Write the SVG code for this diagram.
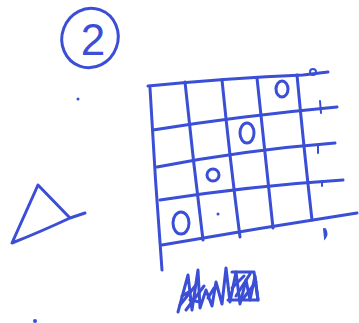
<svg xmlns="http://www.w3.org/2000/svg" width="359" height="323" viewBox="0 0 359 323">
<style>
.s{fill:none;stroke:#3a4ed6;stroke-width:3;stroke-linecap:round;stroke-linejoin:round}
.t{fill:none;stroke:#3a4ed6;stroke-width:2;stroke-linecap:round}
.f{fill:#3a4ed6}
.lbl{font-family:"Liberation Sans",Arial,sans-serif;font-size:44px;fill:#3a4ed6}
</style>
<rect width="359" height="323" fill="#fff"/>
<g id="number">
<ellipse class="s" cx="90" cy="38" rx="28" ry="30" transform="rotate(20 90 38)"/>
<text class="lbl" x="93" y="55" text-anchor="middle">2</text>
</g>
<g id="triangle">
<path class="s" d="M38 185 L12 243 Q40 232 70 218 L85 213 M38 185 L70 218"/>
</g>
<g id="grid">
<path class="s" d="M148 86 Q230 78 303 75 L328 72"/>
<path class="s" d="M150 88 Q155 180 162 270"/>
<path class="s" d="M153 130 Q240 116 337 107"/>
<path class="s" d="M157 167 Q245 150 335 143"/>
<path class="s" d="M160 200 Q250 186 343 180"/>
<path class="s" d="M162 245 Q260 228 357 213"/>
<path class="s" d="M185 82 Q193 160 203 240"/>
<path class="s" d="M222 80 Q230 160 240 237"/>
<path class="s" d="M257 78 Q265 150 273 228"/>
<path class="s" d="M297 75 Q304 150 312 220"/>
<ellipse class="s" cx="282" cy="89" rx="6" ry="8"/>
<ellipse class="s" cx="247" cy="133" rx="7" ry="10"/>
<ellipse class="s" cx="213" cy="175" rx="6" ry="6"/>
<ellipse class="s" cx="181" cy="223" rx="8" ry="11"/>
<circle class="f" cx="218" cy="214" r="1.5"/>
</g>
<g id="marks">
<ellipse class="t" cx="313" cy="72" rx="3" ry="3"/>
<path class="t" d="M320 101 L321 113"/>
<path class="t" d="M318 146 L318 153"/>
<path class="t" d="M322 181 L322 186"/>
<path class="t" d="M324 229 L325 238 Q328 234 325 229"/>
<circle class="f" cx="78" cy="99" r="1.5"/>
<circle class="f" cx="35" cy="321" r="2"/>
</g>
<g id="scribble">
<path class="s" d="M178 312 L188 275 L192 310 L198 270 L200 308 L206 290 L212 306 L216 282 L222 304 L226 268 L230 302 L236 272 L240 304 L246 280 L250 300 L255 276 L258 300"/>
<path class="s" d="M180 305 L196 285 M186 310 L204 286 M182 296 L192 290 M228 300 L258 300 L254 272 L232 272 M236 296 L250 274 M242 300 L256 282 M232 288 L244 276 M208 298 L214 288 M190 300 L200 302"/>
</g>
</svg>
